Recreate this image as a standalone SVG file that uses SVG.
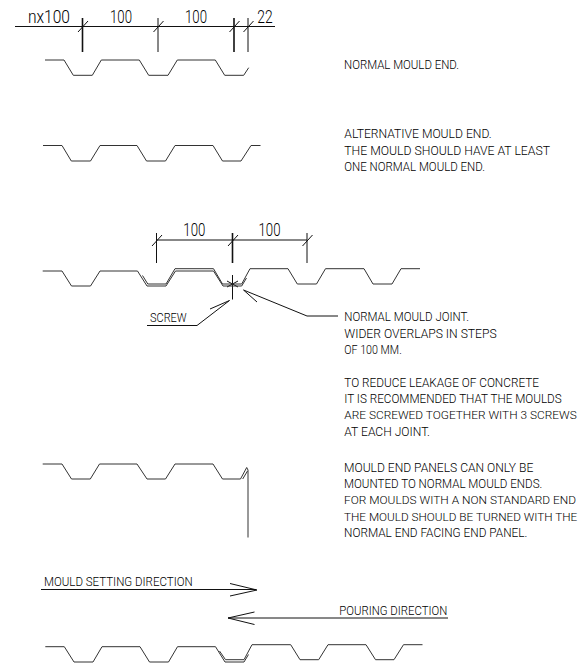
<svg xmlns="http://www.w3.org/2000/svg" width="582" height="668" viewBox="0 0 582 668">
<style>
path,line{fill:none;stroke:#111;stroke-width:1}
.g path{stroke:#333}
.thick{stroke-width:1.6}
text{font-family:Roboto,"Liberation Sans",sans-serif;font-weight:300;font-size:12.6px;fill:#000}
.d{font-size:17.5px}
.s{font-size:11.8px}
</style>
<rect width="582" height="668" fill="#fff"/>
<g id="connectors">
<path d="M15 26.500H275"/>
<path class="thick" d="M82.500 18V52"/><path d="M78 32L88 21"/>
<path d="M158 18V52M153.500 32L163.500 21"/>
<path class="thick" d="M234 18V52"/><path d="M229.500 32L239.500 21"/>
<path d="M248 18V52M243.500 32L253.500 21"/>
<path d="M156.500 240H307"/>
<path d="M156.500 233V263M152 246L162 235"/>
<path class="thick" d="M232.500 233V263"/><path d="M228 246L238 235"/>
<path d="M307 233V263M302.500 246L312.500 235"/>
<path d="M232.500 275V299.500M227 281L238 287M227 287L238 281"/>
<path d="M147 325.500H197L229.500 300.500L210 309"/>
<path d="M338 316H307L243.500 290L257 302"/>
<path d="M41 589.500H256"/><path d="M230 583.500L257 590L230 596"/>
<path d="M448 618H228"/><path d="M254.500 612L228 618L254.500 624.500"/>
</g>
<g id="profile-normal" class="g"><path d="M45 60H64L73.300 75.300H92.300L101.300 60H139.300L148.700 75.300H168L177.300 60H215.300L224.700 75.300H243.700L248.700 67.700"/></g>
<g id="profile-alternative" class="g"><path d="M43 145.500H62L71.300 161H90.500L100 145.500H137L146.500 161H165.500L175 145.500H213L222.500 161H241L251 145.500H260.500"/></g>
<g id="profile-joint" class="g">
<path d="M42.700 271H62L71.500 286H90.500L100 271H137.500L147 286H166L175.500 271H213.500L223 286H241.700L246.500 278"/>
<path d="M142.500 275.500L147.800 284H166L175 268.700H213.500L222.500 284H241.700L250 268.700H288L297.300 284H316.500L325.500 268.700H364L373 284H392L401 268.700H420"/>
</g>
<g id="profile-end-panel" class="g">
<path d="M42.700 464H62L71.500 479H90.300L99.500 464H137L147 479H165.500L175 464H213L222.500 479H240.500L246.700 467.500L248 470V537.500"/>
<path d="M242.700 479L247.500 471"/>
</g>
<g id="profile-bottom" class="g">
<path d="M45.300 646.700H64.300L74 662H93L102 646.700H140L149.500 662H168.500L177.500 646.700H215.500L225 662H244L248.500 654.500"/>
<path d="M219.500 651L225.500 659.700H244L252 644.700H290.700L300 659.700H318.700L328 644.700H366L375.500 659.700H394L403.500 644.700H422.500"/>
</g>
<g id="dimension-labels">
<text class="d" x="28" y="22.500" textLength="42" lengthAdjust="spacingAndGlyphs">nx100</text>
<text class="d" x="110" y="22.500" textLength="22" lengthAdjust="spacingAndGlyphs">100</text>
<text class="d" x="185" y="22.500" textLength="22" lengthAdjust="spacingAndGlyphs">100</text>
<text class="d" x="257.300" y="22.500" textLength="15.400" lengthAdjust="spacingAndGlyphs">22</text>
<text class="d" x="183.300" y="235.700" textLength="22" lengthAdjust="spacingAndGlyphs">100</text>
<text class="d" x="258.500" y="235.700" textLength="22" lengthAdjust="spacingAndGlyphs">100</text>
</g>
<g id="notes">
<text x="344" y="69" textLength="115" lengthAdjust="spacingAndGlyphs">NORMAL MOULD END.</text>
<text x="344.300" y="138.300" textLength="147.400" lengthAdjust="spacingAndGlyphs">ALTERNATIVE MOULD END.</text>
<text x="344.300" y="155" textLength="205.700" lengthAdjust="spacingAndGlyphs">THE MOULD SHOULD HAVE AT LEAST</text>
<text x="344.300" y="171" textLength="140.700" lengthAdjust="spacingAndGlyphs">ONE NORMAL MOULD END.</text>
<text x="344.300" y="321" textLength="124.700" lengthAdjust="spacingAndGlyphs">NORMAL MOULD JOINT.</text>
<text x="344.300" y="337.700" textLength="152.400" lengthAdjust="spacingAndGlyphs">WIDER OVERLAPS IN STEPS</text>
<text x="344.300" y="354.300" textLength="57.400" lengthAdjust="spacingAndGlyphs">OF 100 MM.</text>
<text x="344.300" y="386.700" textLength="194.700" lengthAdjust="spacingAndGlyphs">TO REDUCE LEAKAGE OF CONCRETE</text>
<text x="344.300" y="403.300" textLength="217.400" lengthAdjust="spacingAndGlyphs">IT IS RECOMMENDED THAT THE MOULDS</text>
<text class="s" x="344.300" y="419.300" textLength="232.400" lengthAdjust="spacingAndGlyphs">ARE SCREWED TOGETHER WITH 3 SCREWS</text>
<text x="344.300" y="436" textLength="85.700" lengthAdjust="spacingAndGlyphs">AT EACH JOINT.</text>
<text x="344" y="471.700" textLength="189.300" lengthAdjust="spacingAndGlyphs">MOULD END PANELS CAN ONLY BE</text>
<text x="344" y="488.300" textLength="198.300" lengthAdjust="spacingAndGlyphs">MOUNTED TO NORMAL MOULD ENDS.</text>
<text class="s" x="344" y="504.300" textLength="232" lengthAdjust="spacingAndGlyphs">FOR MOULDS WITH A NON STANDARD END</text>
<text class="s" x="344" y="520.700" textLength="233.300" lengthAdjust="spacingAndGlyphs">THE MOULD SHOULD BE TURNED WITH THE</text>
<text x="344" y="537.300" textLength="183.300" lengthAdjust="spacingAndGlyphs">NORMAL END FACING END PANEL.</text>
<text x="150" y="322.300" textLength="36.700" lengthAdjust="spacingAndGlyphs">SCREW</text>
<text x="44" y="586" textLength="148.700" lengthAdjust="spacingAndGlyphs">MOULD SETTING DIRECTION</text>
<text x="339.300" y="615" textLength="108" lengthAdjust="spacingAndGlyphs">POURING DIRECTION</text>
</g>
</svg>
